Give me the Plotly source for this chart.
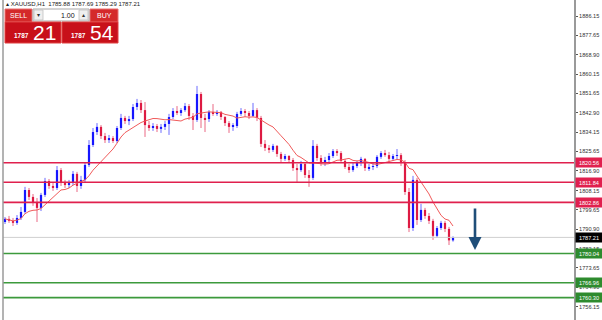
import plotly.graph_objects as go
import pandas as pd

# ---------------- data ----------------
opens = [1794.1, 1795.5, 1794.6, 1793.7, 1795.9, 1798.6, 1808.4, 1805.3, 1802.6, 1800.4,
 1806.2, 1812.4, 1810.2, 1809.3, 1817.3, 1812.0, 1810.6, 1811.5, 1815.6, 1810.2,
 1812.9, 1819.6, 1828.5, 1834.3, 1836.6, 1832.5, 1830.7, 1831.6, 1830.3, 1836.1,
 1840.6, 1839.2, 1840.1, 1845.5, 1847.3, 1844.1, 1837.4, 1836.1, 1837.0, 1835.7,
 1836.6, 1837.9, 1841.0, 1843.7, 1842.8, 1844.1, 1845.9, 1841.5, 1839.7, 1851.3,
 1840.6, 1840.1, 1843.3, 1842.8, 1843.3, 1841.0, 1838.3, 1836.6, 1837.0, 1842.4,
 1843.7, 1842.8, 1841.5, 1844.1, 1840.6, 1829.0, 1827.2, 1826.3, 1828.1, 1824.5,
 1822.3, 1823.6, 1821.8, 1818.2, 1817.3, 1820.0, 1815.1, 1813.8, 1828.1, 1822.7,
 1820.9, 1821.8, 1823.6, 1825.8, 1824.9, 1821.4, 1818.7, 1817.3, 1819.1, 1820.5,
 1822.3, 1818.2, 1818.7, 1819.1, 1823.2, 1824.9, 1824.0, 1822.3, 1823.6, 1824.0,
 1820.9, 1807.5, 1791.4, 1812.9, 1795.0, 1799.5, 1796.8, 1794.6, 1787.9, 1791.4,
 1793.7, 1791.0, 1785.88]

closes = [1795.5, 1794.6, 1793.7, 1795.9, 1798.6, 1808.4, 1805.3, 1802.6, 1800.4, 1806.2,
 1812.4, 1810.2, 1809.3, 1817.3, 1812.0, 1810.6, 1811.5, 1815.6, 1810.2, 1812.9,
 1819.6, 1828.5, 1834.3, 1836.6, 1832.5, 1830.7, 1831.6, 1830.3, 1836.1, 1840.6,
 1839.2, 1840.1, 1845.5, 1847.3, 1844.1, 1837.4, 1836.1, 1837.0, 1835.7, 1836.6,
 1837.9, 1841.0, 1843.7, 1842.8, 1844.1, 1845.9, 1841.5, 1839.7, 1851.3, 1840.6,
 1840.1, 1843.3, 1842.8, 1843.3, 1841.0, 1838.3, 1836.6, 1837.0, 1842.4, 1843.7,
 1842.8, 1841.5, 1844.1, 1840.6, 1829.0, 1827.2, 1826.3, 1828.1, 1824.5, 1822.3,
 1823.6, 1821.8, 1818.2, 1817.3, 1820.0, 1815.1, 1813.8, 1828.1, 1822.7, 1820.9,
 1821.8, 1823.6, 1825.8, 1824.9, 1821.4, 1818.7, 1817.3, 1819.1, 1820.5, 1822.3,
 1818.2, 1818.7, 1819.1, 1823.2, 1824.9, 1824.0, 1822.3, 1823.6, 1824.0, 1820.9,
 1807.5, 1791.4, 1812.9, 1795.0, 1799.5, 1796.8, 1794.6, 1787.9, 1791.4, 1793.7,
 1791.0, 1785.88, 1787.21]

highs = [1796.3, 1796.8, 1795.9, 1797.2, 1800.8, 1809.8, 1809.3, 1806.6, 1804.8, 1807.1,
 1813.8, 1813.3, 1811.5, 1819.1, 1818.2, 1812.9, 1812.9, 1816.9, 1816.5, 1814.7,
 1820.9, 1830.7, 1836.1, 1838.3, 1837.4, 1833.9, 1833.0, 1832.5, 1837.0, 1842.4,
 1841.5, 1841.5, 1846.8, 1849.1, 1848.6, 1847.7, 1839.2, 1838.3, 1837.9, 1837.9,
 1839.2, 1842.4, 1845.0, 1845.9, 1845.0, 1847.3, 1846.8, 1842.8, 1854.9, 1852.2,
 1842.4, 1844.1, 1846.8, 1844.1, 1843.7, 1841.5, 1839.2, 1838.3, 1843.3, 1845.0,
 1844.6, 1843.7, 1847.3, 1845.0, 1841.5, 1830.7, 1828.5, 1829.0, 1828.5, 1825.4,
 1824.5, 1824.0, 1822.7, 1820.0, 1821.4, 1820.5, 1817.3, 1830.7, 1829.0, 1824.0,
 1823.2, 1824.9, 1826.7, 1826.7, 1825.8, 1822.3, 1820.0, 1820.5, 1821.4, 1823.2,
 1822.7, 1820.0, 1820.5, 1824.0, 1825.8, 1826.3, 1825.4, 1824.5, 1826.7, 1824.9,
 1821.8, 1809.3, 1814.7, 1813.8, 1802.2, 1800.4, 1798.1, 1795.5, 1792.3, 1794.6,
 1794.6, 1791.9, 1787.69]

lows = [1793.2, 1793.7, 1792.3, 1792.8, 1795.0, 1797.7, 1803.9, 1801.3, 1794.1, 1799.0,
 1805.3, 1808.9, 1808.0, 1808.4, 1810.2, 1809.3, 1809.3, 1810.6, 1807.5, 1808.9,
 1812.0, 1818.7, 1827.6, 1833.0, 1831.2, 1829.4, 1829.4, 1829.4, 1829.4, 1835.2,
 1837.9, 1837.4, 1839.2, 1844.1, 1842.8, 1832.1, 1834.8, 1834.8, 1834.3, 1833.9,
 1835.2, 1833.0, 1840.1, 1841.9, 1841.5, 1843.3, 1839.7, 1835.2, 1838.8, 1836.1,
 1834.3, 1838.8, 1841.5, 1841.5, 1839.7, 1837.0, 1833.9, 1834.8, 1836.1, 1841.5,
 1841.0, 1840.1, 1841.0, 1839.2, 1827.6, 1825.8, 1824.9, 1825.4, 1823.2, 1820.5,
 1821.4, 1820.5, 1816.9, 1812.0, 1816.5, 1813.8, 1809.8, 1812.9, 1821.4, 1819.1,
 1819.1, 1820.5, 1822.7, 1823.6, 1820.5, 1817.8, 1816.0, 1816.5, 1818.2, 1819.1,
 1816.9, 1816.9, 1817.3, 1818.2, 1822.3, 1823.2, 1820.9, 1821.4, 1821.8, 1819.1,
 1806.2, 1789.6, 1790.1, 1792.8, 1794.1, 1795.5, 1793.2, 1786.1, 1787.0, 1790.5,
 1789.6, 1783.8, 1785.29]

ma_period = 10

resistance_levels = [1820.56, 1811.84, 1802.86]
support_levels = [1780.04, 1766.96, 1760.30]
bid_price = 1787.21

tick_values = [1886.15, 1877.65, 1868.90, 1860.15, 1851.65, 1842.90, 1834.15, 1825.65,
               1816.90, 1808.15, 1799.65, 1790.90, 1782.15, 1773.65, 1764.90, 1756.15]
tick_labels = ["1886.15", "1877.65", "1868.90", "1860.15", "1851.65", "1842.90", "1834.15", "1825.65",
               "1816.90", "1808.15", "1799.65", "1790.90", "1782.15", "1773.65", "1764.90", "1756.15"]

symbol = "XAUUSD,H1"
header_ohlc = ["1785.88", "1787.69", "1785.29", "1787.21"]
sell_big = "1787"
sell_small = "21"
buy_big = "1787"
buy_small = "54"
lot_size = "1.00"

arrow_from = 1800.8
arrow_to = 1781.6
arrow_bar = 117.5

# ---------------- figure ----------------
W, H = 602, 320
ML, MR, MT, MB = 3, 28, 0, 0
PW, PH = W - ML - MR, H - MT - MB

def px(x):
    return (x - ML) / PW

def py(y):
    return 1 - (y - MT) / PH

n = len(closes)
idx = list(range(n))
BLUE = "#0000FF"
RED = "#DC143C"

fig = go.Figure()

# wicks
for up, col in [(True, "rgba(60,60,255,0.75)"), (False, "rgba(225,40,80,0.7)")]:
    xs, ys = [], []
    for i in idx:
        if (closes[i] >= opens[i]) == up:
            xs += [i, i, None]
            ys += [lows[i], highs[i], None]
    fig.add_trace(go.Scatter(x=xs, y=ys, mode="lines", line=dict(color=col, width=1),
                             hoverinfo="skip", showlegend=False))

# bodies
for up, col in [(True, BLUE), (False, RED)]:
    bx, by, bb = [], [], []
    for i in idx:
        if (closes[i] >= opens[i]) == up:
            lo_, hi_ = min(opens[i], closes[i]), max(opens[i], closes[i])
            bx.append(i)
            bb.append(lo_)
            by.append(max(hi_ - lo_, 0.35))
    fig.add_trace(go.Bar(x=bx, y=by, base=bb, width=0.55, marker=dict(color=col, line=dict(width=0)),
                         showlegend=False, hoverinfo="skip"))

# moving average
ma = pd.Series(closes).rolling(ma_period, min_periods=1).mean()
fig.add_trace(go.Scatter(x=idx, y=ma, mode="lines", line=dict(color="#F05A5A", width=1),
                         showlegend=False, hoverinfo="skip"))

shapes = []
annotations = []

def level(price, color, width, label_bg, label):
    shapes.append(dict(type="line", xref="paper", yref="y", x0=0, x1=1, y0=price, y1=price,
                       line=dict(color=color, width=width), layer="above"))
    annotations.append(dict(xref="paper", yref="y", x=1, y=price, xanchor="left", yanchor="middle",
                            xshift=1, text=label, showarrow=False,
                            font=dict(family="Liberation Sans", size=5.6, color="white"),
                            bgcolor=label_bg, borderpad=1, width=24, height=7))

level(bid_price, "#CFCFCF", 1, "#000000", f"{bid_price:.2f}")
for p in resistance_levels:
    level(p, "#E0204E", 1.6, "#E0204E", f"{p:.2f}")
for p in support_levels:
    level(p, "#3C9A3C", 1.6, "#2E8B2E", f"{p:.2f}")

# left border
shapes.append(dict(type="line", xref="paper", yref="paper", x0=0, x1=0, y0=0, y1=1,
                   line=dict(color="#9A9A9A", width=1.5)))

# arrow
annotations.append(dict(x=arrow_bar, y=arrow_to, ax=arrow_bar, ay=arrow_from, xref="x", yref="y",
                        axref="x", ayref="y", showarrow=True, arrowhead=2, arrowsize=1,
                        arrowwidth=2.6, arrowcolor="#1F4E79", text=""))

# header
annotations.append(dict(xref="paper", yref="paper", x=px(4), y=py(4), xanchor="left", yanchor="middle",
                        text="\u25B4 " + symbol + "  " + " ".join(header_ohlc), showarrow=False,
                        font=dict(family="Liberation Sans", size=6, color="#222222")))

# one-click trading panel
def rect(x0, y0, x1, y1, fill, line_col=None, lw=0):
    shapes.append(dict(type="rect", xref="paper", yref="paper", x0=px(x0), x1=px(x1), y0=py(y1), y1=py(y0),
                       fillcolor=fill, line=dict(color=line_col or fill, width=lw), layer="above"))

def txt(x, y, s, size, color="white", anchor="center", family="Liberation Sans"):
    annotations.append(dict(xref="paper", yref="paper", x=px(x), y=py(y), xanchor=anchor, yanchor="middle",
                            text=s, showarrow=False, font=dict(family=family, size=size, color=color)))

rect(5, 9, 32, 22, "#D42A2A", "#E87070", 1)
txt(18.5, 15.5, "SELL", 7)
rect(90, 9, 118, 22, "#D42A2A", "#E87070", 1)
txt(104, 15.5, "BUY", 7)
rect(33, 9, 89, 21, "#FFFFFF", "#A8A8A8", 1)
rect(34, 10, 43, 20, "#EFEFEF", "#C0C0C0", 0.8)
rect(79, 10, 88, 20, "#EFEFEF", "#C0C0C0", 0.8)
txt(38.5, 15, "\u25BE", 6, "#333333")
txt(83.5, 15, "\u25B4", 6, "#333333")
txt(77, 15, lot_size, 7, "#111111", anchor="right")
rect(5, 22, 61, 43, "#C8101A", "#E04040", 1)
rect(62, 22, 118, 43, "#C8101A", "#E04040", 1)
txt(12, 35, f"<b>{sell_big}</b>", 6.5, anchor="left")
txt(31, 32.5, sell_small, 21, anchor="left")
txt(69, 35, f"<b>{buy_big}</b>", 6.5, anchor="left")
txt(88, 32.5, buy_small, 21, anchor="left")

fig.update_layout(
    width=W, height=H,
    margin=dict(l=ML, r=MR, t=MT, b=MB),
    paper_bgcolor="white", plot_bgcolor="white",
    barmode="overlay",
    showlegend=False,
    shapes=shapes,
    annotations=annotations,
    xaxis=dict(range=[-0.5, 142.25], showgrid=False, zeroline=False, showticklabels=False,
               ticks="", showline=False, fixedrange=True),
    yaxis=dict(range=[1750.3, 1893.3], side="right", showgrid=False, zeroline=False,
               tickvals=tick_values, ticktext=tick_labels, ticks="outside", ticklen=2,
               tickcolor="#555555", tickfont=dict(family="Liberation Sans", size=5.6, color="#333333"),
               showline=True, linecolor="#9A9A9A", linewidth=2, fixedrange=True),
)

fig.write_html("out.html")
